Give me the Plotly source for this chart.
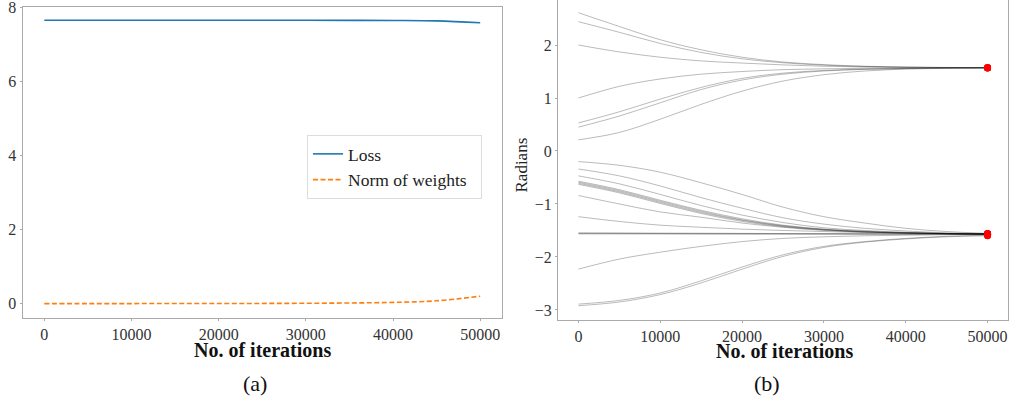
import plotly.graph_objects as go

# ---------------- data ----------------
ITERS = [0, 5000, 10000, 15000, 20000, 25000, 30000, 35000, 40000, 45000, 50000]

LOSS = [7.66, 7.66, 7.66, 7.66, 7.66, 7.66, 7.66, 7.659, 7.656, 7.645, 7.595]
NORM = [0.0, 0.0, 0.0, 0.001, 0.002, 0.004, 0.008, 0.016, 0.032, 0.075, 0.2]

# angle trajectories (radians)
ANGLES = [
    [2.61, 2.35, 2.10, 1.91, 1.77, 1.68, 1.63, 1.60, 1.585, 1.577, 1.573],
    [2.44, 2.24, 2.03, 1.86, 1.74, 1.665, 1.62, 1.595, 1.582, 1.575, 1.572],
    [2.00, 1.87, 1.77, 1.70, 1.66, 1.625, 1.60, 1.585, 1.578, 1.574, 1.571],
    [1.00, 1.22, 1.36, 1.45, 1.50, 1.535, 1.55, 1.56, 1.566, 1.569, 1.570],
    [0.53, 0.74, 0.98, 1.20, 1.37, 1.47, 1.52, 1.545, 1.558, 1.565, 1.569],
    [0.45, 0.66, 0.91, 1.16, 1.34, 1.45, 1.51, 1.54, 1.556, 1.564, 1.569],
    [0.21, 0.35, 0.60, 0.88, 1.13, 1.32, 1.44, 1.51, 1.545, 1.56, 1.568],
    [-0.20, -0.27, -0.40, -0.60, -0.82, -1.06, -1.24, -1.36, -1.46, -1.52, -1.555],
    [-0.34, -0.47, -0.66, -0.88, -1.08, -1.26, -1.38, -1.46, -1.51, -1.545, -1.56],
    [-0.47, -0.62, -0.82, -1.03, -1.21, -1.35, -1.45, -1.50, -1.535, -1.555, -1.565],
    [-0.57, -0.73, -0.93, -1.12, -1.28, -1.40, -1.475, -1.515, -1.54, -1.557, -1.566],
    [-0.59, -0.75, -0.95, -1.14, -1.30, -1.41, -1.48, -1.52, -1.545, -1.56, -1.567],
    [-0.61, -0.77, -0.97, -1.16, -1.31, -1.42, -1.485, -1.525, -1.548, -1.561, -1.567],
    [-0.63, -0.79, -0.99, -1.18, -1.33, -1.43, -1.49, -1.53, -1.55, -1.562, -1.568],
    [-0.84, -1.00, -1.15, -1.25, -1.36, -1.44, -1.50, -1.53, -1.55, -1.56, -1.567],
    [-1.24, -1.33, -1.40, -1.44, -1.475, -1.50, -1.52, -1.54, -1.55, -1.56, -1.567],
    [-1.545, -1.547, -1.55, -1.552, -1.555, -1.558, -1.56, -1.563, -1.565, -1.567, -1.569],
    [-1.555, -1.556, -1.558, -1.56, -1.562, -1.563, -1.565, -1.566, -1.567, -1.569, -1.570],
    [-1.565, -1.566, -1.567, -1.568, -1.568, -1.569, -1.569, -1.570, -1.570, -1.571, -1.571],
    [-2.23, -2.04, -1.91, -1.80, -1.71, -1.65, -1.62, -1.60, -1.59, -1.58, -1.575],
    [-2.89, -2.82, -2.68, -2.45, -2.19, -1.96, -1.80, -1.71, -1.65, -1.61, -1.59],
    [-2.92, -2.85, -2.71, -2.49, -2.23, -1.99, -1.82, -1.72, -1.66, -1.62, -1.60],
]

LEFT_YTICKS = [0, 2, 4, 6, 8]
RIGHT_YTICKS = [-3, -2, -1, 0, 1, 2]
XTICKS = [0, 10000, 20000, 30000, 40000, 50000]
XTICK_LABELS = ["0", "10000", "20000", "30000", "40000", "50000"]

# ---------------- figure ----------------
SERIF = "Liberation Serif"
AXC = "#aaaaaa"
W, H = 1010, 404

fig = go.Figure()

fig.add_trace(go.Scatter(x=ITERS, y=LOSS, mode="lines", name="Loss",
                         line=dict(color="#1f77b4", width=1.6, shape="spline"),
                         xaxis="x", yaxis="y"))
fig.add_trace(go.Scatter(x=ITERS, y=NORM, mode="lines", name="Norm of weights\u00a0\u00a0",
                         line=dict(color="#ff7f0e", width=1.6, dash="5px,2.5px", shape="spline"),
                         xaxis="x", yaxis="y"))

for a in ANGLES:
    fig.add_trace(go.Scatter(x=ITERS, y=a, mode="lines", showlegend=False,
                             line=dict(color="rgba(0,0,0,0.3)", width=0.9, shape="spline"),
                             xaxis="x2", yaxis="y2", hoverinfo="skip"))

fig.add_trace(go.Scatter(x=[ITERS[-1]] * len(ANGLES), y=[a[-1] for a in ANGLES],
                         mode="markers", showlegend=False,
                         marker=dict(color="red", size=7, line=dict(width=0)),
                         xaxis="x2", yaxis="y2"))

def px_x(p):
    return p / W

def px_y(p):
    return 1 - p / H

tickfont = dict(family=SERIF, size=16, color="#333333")
common_axis = dict(showgrid=False, zeroline=False, showline=True, linecolor=AXC,
                   linewidth=1, ticks="outside", ticklen=2, tickcolor=AXC,
                   tickfont=tickfont, automargin=False, ticklabeloverflow="allow")

fig.update_layout(
    width=W, height=H,
    margin=dict(l=0, r=0, t=0, b=0, autoexpand=False),
    paper_bgcolor="white", plot_bgcolor="white",
    xaxis=dict(domain=[px_x(22.5), px_x(502)], range=[-2500, 52500],
               tickvals=XTICKS, ticktext=XTICK_LABELS, anchor="y", mirror=True,
               **common_axis),
    yaxis=dict(domain=[px_y(318), px_y(7)], range=[-0.39, 8.02],
               tickvals=LEFT_YTICKS, anchor="x", mirror=True, **common_axis),
    xaxis2=dict(domain=[px_x(558), px_x(1008)], range=[-2500, 52500],
                tickvals=XTICKS, ticktext=XTICK_LABELS, anchor="y2", mirror=False,
                **common_axis),
    yaxis2=dict(domain=[px_y(320), 1.0], range=[-3.19, 2.85],
                tickvals=RIGHT_YTICKS, anchor="x2", mirror=True, **common_axis),
    legend=dict(x=px_x(307), y=px_y(135), xanchor="left", yanchor="top",
                bgcolor="white", bordercolor="#dddddd", borderwidth=1,
                font=dict(family=SERIF, size=17.5, color="#222222"),
                tracegroupgap=2),
    showlegend=True,
)

annots = [
    dict(text="<b>No. of iterations</b>", x=px_x(262), y=px_y(350), size=20),
    dict(text="<b>No. of iterations</b>", x=px_x(784), y=px_y(351), size=20),
    dict(text="(a)", x=px_x(255), y=px_y(383), size=22),
    dict(text="(b)", x=px_x(767), y=px_y(383), size=22),
]
for a in annots:
    fig.add_annotation(text=a["text"], x=a["x"], y=a["y"], xref="paper", yref="paper",
                       showarrow=False, xanchor="center", yanchor="middle",
                       font=dict(family=SERIF, size=a["size"], color="#111111"))
fig.add_annotation(text="Radians", x=px_x(521.5), y=px_y(165), xref="paper", yref="paper",
                   showarrow=False, textangle=-90, xanchor="center", yanchor="middle",
                   font=dict(family=SERIF, size=17, color="#222222"))

fig.write_html(
    "out.html",
    config={"displayModeBar": False},
    post_script="document.documentElement.style.margin='0';document.body.style.margin='0';"
                "document.body.style.padding='0';document.body.style.overflow='hidden';",
)
